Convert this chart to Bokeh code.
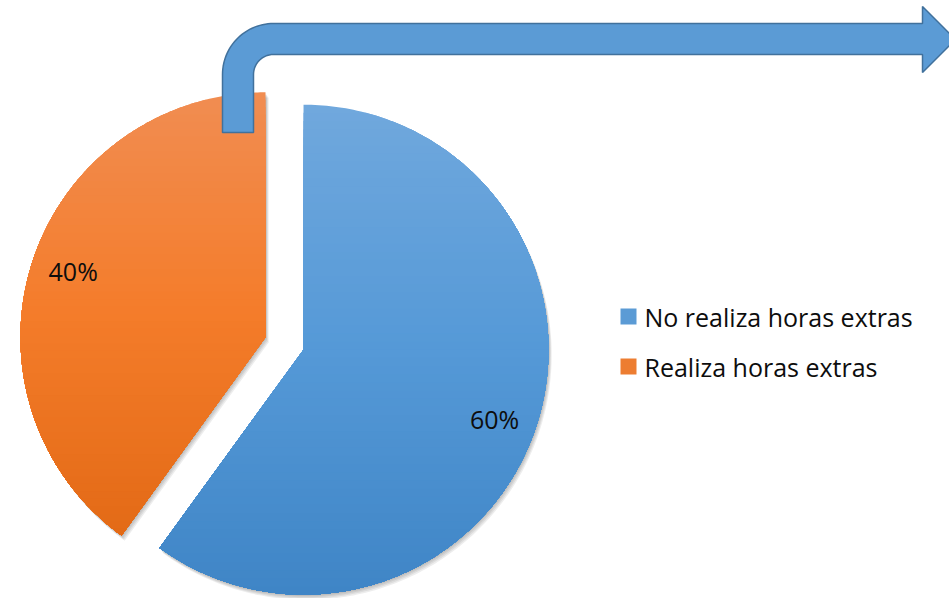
import numpy as np
from bokeh.plotting import figure
from bokeh.models import Range1d
from bokeh.core.properties import value
from bokeh.embed import file_html
from bokeh.resources import INLINE

# ---- data ----
categories = ["No realiza horas extras", "Realiza horas extras"]
values = [60, 40]
labels = ["60%", "40%"]
# gradient stops (top, middle, bottom) per slice
grad_stops = [["#70A8DD", "#5599D7", "#3F85C6"],
              ["#F18D52", "#F47C2A", "#E36A16"]]
legend_colors = ["#5B9BD5", "#ED7D31"]

W, H = 949, 598
FONT = "Open Sans"

p = figure(width=W, height=H, x_range=Range1d(0, W), y_range=Range1d(0, H),
           output_backend="svg", toolbar_location=None, min_border=0,
           x_axis_type=None, y_axis_type=None)
p.grid.visible = False
p.outline_line_color = None
p.background_fill_color = "white"
p.border_fill_color = "white"


def sy(y):  # screen y -> data y
    return H - y


def hex2rgb(h):
    h = h.lstrip("#")
    return np.array([int(h[i:i + 2], 16) for i in (0, 2, 4)], dtype=float)


def grad(stops, t):
    n = len(stops) - 1
    seg = min(int(t * n), n - 1)
    u = t * n - seg
    c = hex2rgb(stops[seg]) * (1 - u) + hex2rgb(stops[seg + 1]) * u
    return "#%02x%02x%02x" % tuple(int(round(v)) for v in c)


def clip_below(xs, ys, yc):
    out_x, out_y = [], []
    n = len(xs)
    for i in range(n):
        x1, y1 = xs[i], ys[i]
        x2, y2 = xs[(i + 1) % n], ys[(i + 1) % n]
        in1, in2 = y1 <= yc, y2 <= yc
        if in1:
            out_x.append(x1); out_y.append(y1)
        if in1 != in2:
            t = (yc - y1) / (y2 - y1)
            out_x.append(x1 + t * (x2 - x1)); out_y.append(yc)
    return out_x, out_y


# ---- pie geometry ----
CX, CY = 284, sy(343)
R = 245
EXPLODE = 20
total = sum(values)

slices = []
cum = 0.0
for i, v in enumerate(values):
    a0 = 90 - cum / total * 360
    a1 = a0 - v / total * 360
    cum += v
    mid = np.radians((a0 + a1) / 2)
    cx = CX + EXPLODE * np.cos(mid)
    cy = CY + EXPLODE * np.sin(mid)
    ang = np.radians(np.linspace(a0, a1, 240))
    xs = [cx] + list(cx + R * np.cos(ang))
    ys = [cy] + list(cy + R * np.sin(ang))
    slices.append((xs, ys, cx, cy, mid))

# shadows
sh_x, sh_y = [], []
for xs, ys, *_ in slices:
    for k in range(1, 5):
        sh_x.append([x + 0.8 * k for x in xs])
        sh_y.append([y - 1.3 * k for y in ys])
p.patches(sh_x, sh_y, fill_color="black", fill_alpha=0.07, line_color=None)

# gradient slices
NB = 60
for i, (xs, ys, cx, cy, mid) in enumerate(slices):
    ymax, ymin = max(ys), min(ys)
    bx, by, bc = [], [], []
    for k in range(NB):
        yc = ymax - k * (ymax - ymin) / NB + (0.01 if k == 0 else 0)
        cxs, cys = clip_below(xs, ys, yc)
        if len(cxs) < 3:
            continue
        bx.append(cxs); by.append(cys)
        bc.append(grad(grad_stops[i], (k + 0.5) / NB))
    p.patches(bx, by, fill_color=bc, line_color=None)

# percentage labels
lab_r = [0.83 * R, 0.83 * R]
lab_da = [np.radians(-2.0), np.radians(-1.0)]
lx = [s[2] + lab_r[i] * np.cos(s[4] + lab_da[i]) for i, s in enumerate(slices)]
ly = [s[3] + lab_r[i] * np.sin(s[4] + lab_da[i]) for i, s in enumerate(slices)]
p.text(x=lx, y=ly, text=labels, text_font=value(FONT), text_font_size="25px",
       text_color="#0D0D0D", text_align="center", text_baseline="middle")

# ---- bent arrow (decoration) ----
ax_l, ax_r, ax_bot = 222, 253, 132
acx, acy, r_out, r_in = 273, 74, 51, 20
head_x, head_top, head_bot, tip_x = 922, 6, 72, 955
t_out = np.radians(np.linspace(180, 90, 30))
t_in = np.radians(np.linspace(90, 180, 30))
arr_x = [ax_l, ax_l] + list(acx + r_out * np.cos(t_out)) + \
    [head_x, head_x, tip_x, head_x, head_x] + list(acx + r_in * np.cos(t_in)) + [ax_r, ax_r]
arr_ys = [ax_bot, acy] + list(acy - r_out * np.sin(t_out)) + \
    [acy - r_out, head_top, (head_top + head_bot) / 2, head_bot, acy - r_in] + \
    list(acy - r_in * np.sin(t_in)) + [acy, ax_bot]
p.patch(arr_x, [sy(y) for y in arr_ys], fill_color="#5B9BD5", line_color="#41719C",
        line_width=1.5)

# ---- legend ----
leg_y = [sy(316), sy(366)]
p.scatter(x=[628, 628], y=leg_y, marker="square", size=16, fill_color=legend_colors,
          line_color=None)
p.text(x=[644, 644], y=leg_y, text=categories, text_font=value(FONT),
       text_font_size="25px", text_color="#0D0D0D", text_align="left",
       text_baseline="middle")

open("out.html", "w").write(file_html(p, INLINE))
